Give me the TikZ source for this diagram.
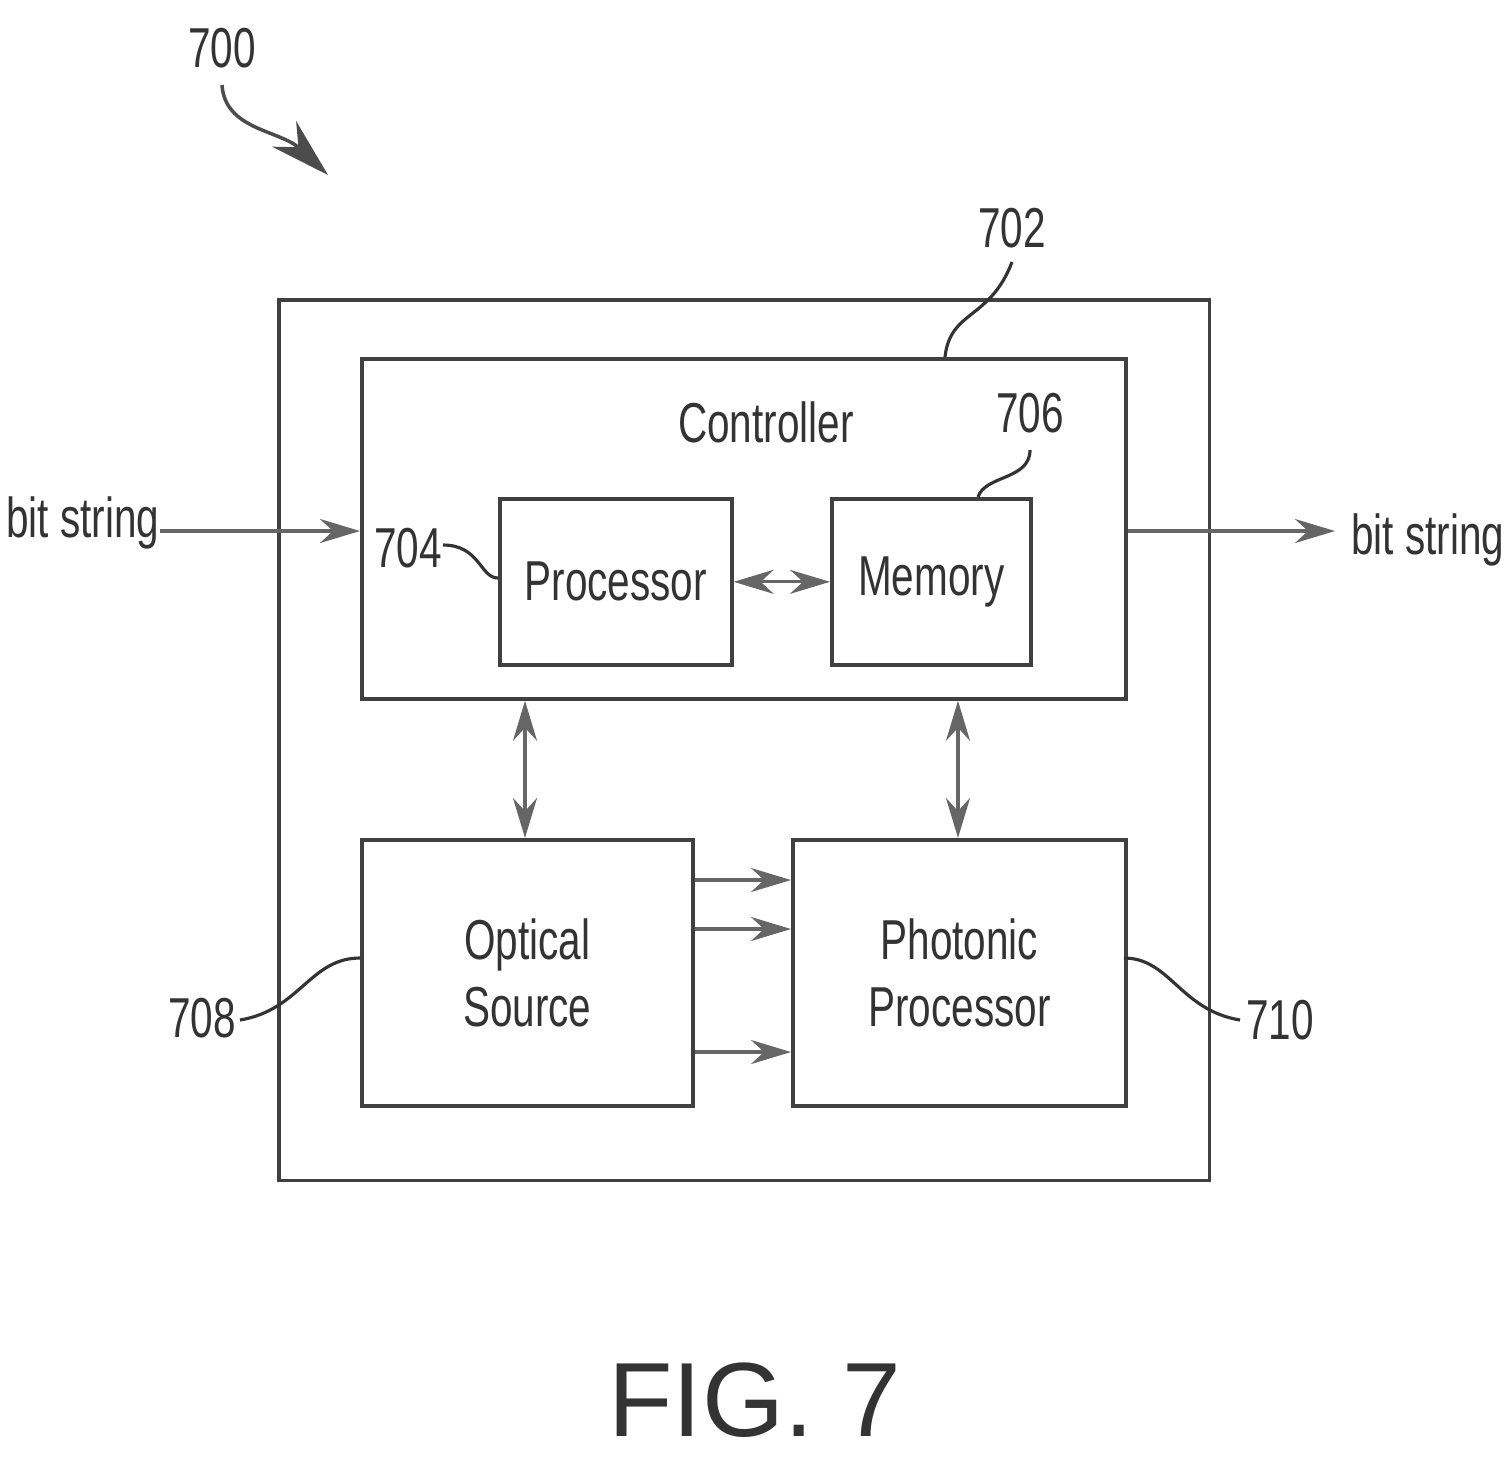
\documentclass[tikz,border=0pt]{standalone}
\usepackage{fontspec}
\setmainfont[FakeStretch=0.72]{Liberation Sans}
\newfontfamily\figfont{Liberation Sans}
\usetikzlibrary{arrows.meta,positioning}
\begin{document}
\begin{tikzpicture}[x=0.01cm,y=-0.01cm,>={Stealth[length=4mm,width=2.4mm]},thick,
  box/.style={draw=black!75,line width=1pt,inner sep=0pt,anchor=north west},
  lbl/.style={font=\fontsize{16}{19}\selectfont,text=black!80},
  arr/.style={->,draw=black!60,line width=0.9pt,color=black!60},
  darr/.style={<->,draw=black!60,line width=0.9pt,color=black!60},
  lead/.style={draw=black!80,line width=0.9pt}]
\useasboundingbox (0,0) rectangle (1512,1456);

% boxes
\node[box,minimum width=9.30cm,minimum height=8.80cm] (sys) at (277,298) {};
\node[box,minimum width=7.64cm,minimum height=3.40cm] (ctrl) at (360,357) {};
\node[box,minimum width=2.32cm,minimum height=1.66cm] (proc) at (498,497) {};
\node[box,minimum width=1.99cm,minimum height=1.66cm] (mem) at (830,497) {};
\node[box,minimum width=3.31cm,minimum height=2.66cm] (src) at (360,838) {};
\node[box,minimum width=3.33cm,minimum height=2.66cm] (phot) at (791,838) {};

% texts
\node[lbl] (ctrltxt) at (766,422) {Controller};
\node[lbl] at (proc.center) {Processor};
\node[lbl] at (mem.center) {Memory};
\node[lbl,align=center] at (src.center) {Optical\\Source};
\node[lbl,align=center] at (phot.center) {Photonic\\Processor};
\node[lbl] (inbits) at (83,523) {bit string};
\node[lbl] (outbits) at (1428,540) {bit string};
\node[lbl] (n700) at (222,48) {700};
\node[lbl] (n702) at (1012,228) {702};
\node[lbl] (n704) at (408,548) {704};
\node[lbl] (n706) at (1030,413) {706};
\node[lbl] (n708) at (202,1018) {708};
\node[lbl] (n710) at (1280,1020) {710};
\node[font=\figfont\fontsize{30}{34}\selectfont,text=black!80] (fig) at (755,1400) {FIG. 7};

% connectors
\coordinate (inend) at (160,531);
\coordinate (outend) at (1335,531);
\draw[arr] (inend) -- (ctrl.west |- inend);
\draw[arr] (ctrl.east |- outend) -- (outend);
\draw[darr] (proc.east) -- (mem.west);
\draw[darr] (ctrl.south -| 525,0) -- (src.north -| 525,0);
\draw[darr] (ctrl.south -| 958,0) -- (phot.north -| 958,0);
\foreach \y in {880,929,1052}
  \draw[arr] (src.east |- 0,\y) -- (phot.west |- 0,\y);

% leaders
\draw[->,draw=black!70,color=black!70,>={Stealth[length=6mm,width=3.5mm]},line width=1pt]
  (222,85) .. controls (225,130) and (280,130) .. (328,175);
\draw[lead] (1012,262) .. controls (990,320) and (950,310) .. (945,357);
\draw[lead] (1030,450) .. controls (1030,480) and (985,475) .. (978,497);
\draw[lead] (443,545) .. controls (480,545) and (480,578) .. (498,578);
\draw[lead] (240,1020) .. controls (300,1010) and (310,958) .. (360,958);
\draw[lead] (1240,1020) .. controls (1180,1010) and (1170,958) .. (1124,958);
\end{tikzpicture}
\end{document}
